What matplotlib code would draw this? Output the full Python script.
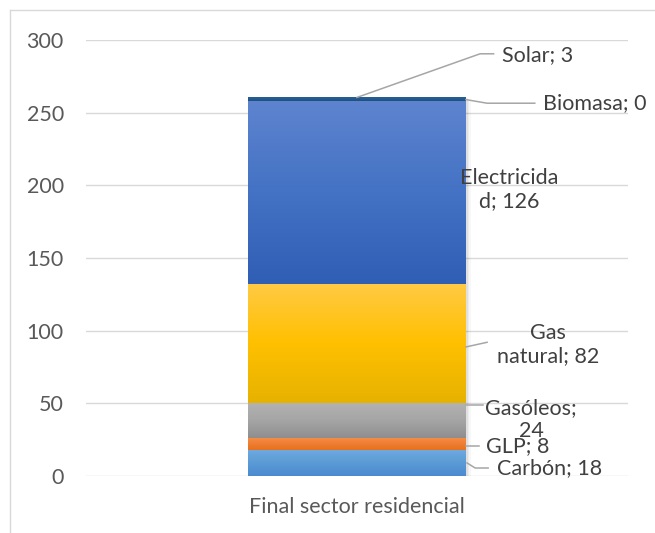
import matplotlib
matplotlib.use("Agg")
import matplotlib.pyplot as plt
import numpy as np
from matplotlib.lines import Line2D
from matplotlib.colors import LinearSegmentedColormap

plt.rcParams['font.family'] = ['Lato', 'DejaVu Sans']

category = "Final sector residencial"
sources = ["Carbón", "GLP", "Gasóleos", "Gas natural", "Electricidad", "Biomasa", "Solar"]
values = [18, 8, 24, 82, 126, 0, 3]
yticks = [0, 50, 100, 150, 200, 250, 300]

# gradient colours (top, middle, bottom)
grads = [
    ("#70AAE0", "#5B9BD5", "#4A8AD0"),
    ("#F58C45", "#ED7D31", "#E8701D"),
    ("#B2B2B2", "#A5A5A5", "#8E8E8E"),
    ("#FFCA45", "#FFC000", "#E6B200"),
    ("#5E84CF", "#4472C4", "#2F5EB5"),
    ("#70AD47", "#70AD47", "#70AD47"),
    ("#2E5D9A", "#255E91", "#1F4E82"),
]

label_texts = ["Carbón; 18", "GLP; 8", "Gasóleos;\n24", "Gas\nnatural; 82",
               "Electricida\nd; 126", "Biomasa; 0", "Solar; 3"]
label_pos = [(0.356, 5.5), (0.297, 20.5), (0.321, 39.0), (0.352, 90.5),
             (0.280, 197), (0.343, 256.7), (0.268, 289.7)]
label_ha = ["center", "center", "center", "center", "center", "left", "left"]
leaders = [
    [(0.203, 9), (0.218, 5.5), (0.242, 5.5)],
    [(0.201, 20.5), (0.226, 20.5)],
    [(0.201, 49), (0.233, 49)],
    [(0.201, 88.8), (0.240, 92.0)],
    None,
    [(0.201, 259), (0.24, 256.5), (0.328, 256.5)],
    [(0.0, 260.5), (0.227, 290.5), (0.252, 290.5)],
]

fs = 15.5
fig = plt.figure(figsize=(6.55, 5.33), dpi=100)
ax = fig.add_axes([86/655, 1-476/533, (628-86)/655, (476-40)/533])

ax.set_xlim(-0.5, 0.5)
ax.set_ylim(0, 300)
ax.set_yticks(yticks)
ax.yaxis.grid(True, color="#D9D9D9", lw=1.0)
ax.set_axisbelow(True)
for s in ax.spines.values():
    s.set_visible(False)
ax.tick_params(axis='both', length=0, colors="#595959", labelsize=fs)
ax.tick_params(axis='y', pad=16)
ax.tick_params(axis='x', pad=15)
ax.set_xticks([0])
ax.set_xticklabels([category])

width = 0.402
total = sum(values)
# soft shadow behind the stack
for k, a in enumerate([0.05, 0.04, 0.03]):
    off = 0.003 * (k + 1)
    ax.bar(off, total, width=width, bottom=-1.0 * (k + 1), color="black", alpha=a,
           edgecolor="none", zorder=1.5)

bottom = 0
for v, g in zip(values, grads):
    if v <= 0:
        bottom += v
        continue
    bar = ax.bar(0, v, width=width, bottom=bottom, color=g[1], edgecolor="none", zorder=2)[0]
    cmap = LinearSegmentedColormap.from_list("g", [g[2], g[1], g[0]])
    grad = np.linspace(0, 1, 256).reshape(-1, 1)
    im = ax.imshow(grad, cmap=cmap, aspect='auto', origin='lower',
                   extent=(-width/2, width/2, bottom, bottom + v), zorder=3)
    im.set_clip_path(bar)
    bottom += v

ax.set_xlim(-0.5, 0.5)
ax.set_ylim(0, 300)

for txt, pos, ha, ld in zip(label_texts, label_pos, label_ha, leaders):
    ax.text(pos[0], pos[1], txt, ha=ha, va='center', fontsize=fs, color="#404040",
            linespacing=1.2, zorder=5)
    if ld:
        xs, ys = zip(*ld)
        ax.plot(xs, ys, color="#A6A6A6", lw=1.1, zorder=4, clip_on=False)

# outer chart border (top and left visible)
fig.add_artist(Line2D([10/655, 10/655], [0, 1-10/533], color="#D9D9D9", lw=1))
fig.add_artist(Line2D([10/655, 1], [1-10/533, 1-10/533], color="#D9D9D9", lw=1))

fig.savefig("out.png", dpi=100)
